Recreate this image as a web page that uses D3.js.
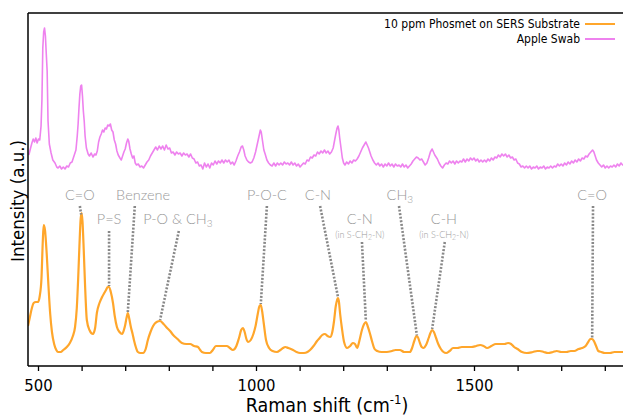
<!DOCTYPE html>
<html><head><meta charset="utf-8">
<script src="https://cdn.jsdelivr.net/npm/d3@7"></script>
<style>
body{margin:0;background:#fff}
svg{display:block}
</style></head>
<body>
<svg id="c" width="623" height="417"></svg>
<script>
// ---- data ----
const seriesNames = ["10 ppm Phosmet on SERS Substrate", "Apple Swab"];
const seriesColors = ["#FFA62B", "#EE82EE"];
const tickValues = [500,600,700,800,900,1000,1100,1200,1300,1400,1500,1600,1700,1800];
const tickLabels = {500:"500",1000:"1000",1500:"1500"};

const phosmet = [
[477,40],[481,48],[486,58],[490,63],[495,64],[500,64],[504,70],[508,88],[511,125],[513,141],[516,136],[520,112],[524,80],[528,52],[532,34],[537,22],[542,16],[546,14],[552,14],[558,16],[566,19],[573,23],[580,30],[585,39],[589,58],[592,86],[595,120],[598,148],[600,153],[602,145],[605,115],[608,80],[612,46],[618,36],[626,32],[631,38],[635,53],[641,63],[647,69],[652,73],[656,76],[660,79],[663,79],[667,74],[672,63],[676,50],[681,39],[687,34],[693,32],[697,36],[700,41],[703,48],[706,53],[709,48],[713,39],[717,32],[720,26],[725,18],[729,14],[735,13],[741,13],[747,17],[752,26],[758,34],[764,40],[772,44],[780,45],[788,42],[796,38],[803,35],[810,31],[820,27],[830,23],[840,22],[849,22],[858,20],[867,19],[872,16],[876,14],[885,13],[894,13],[901,16],[908,20],[920,20],[933,20],[940,18],[947,16],[955,20],[961,28],[966,36],[970,38],[974,34],[978,27],[982,24],[988,26],[994,32],[999,40],[1004,52],[1008,60],[1011,61],[1014,55],[1018,42],[1023,26],[1030,18],[1038,15],[1048,14],[1056,16],[1062,18],[1067,19],[1074,18],[1080,17],[1085,16],[1093,14],[1101,13],[1110,13],[1118,14],[1124,16],[1132,20],[1140,25],[1146,28],[1152,31],[1158,32],[1164,30],[1170,29],[1175,34],[1179,45],[1183,60],[1186,66],[1188,68],[1190,65],[1193,52],[1197,38],[1202,24],[1209,18],[1216,20],[1222,23],[1227,22],[1232,18],[1237,25],[1243,36],[1248,42],[1252,44],[1256,40],[1261,33],[1266,25],[1272,17],[1278,15],[1288,14],[1300,14],[1312,15],[1320,16],[1330,16],[1340,14],[1348,14],[1353,14],[1358,18],[1363,25],[1368,30],[1371,29],[1376,23],[1380,19],[1385,18],[1390,21],[1396,28],[1400,33],[1404,36],[1408,34],[1413,28],[1418,22],[1424,17],[1430,14],[1436,13],[1444,15],[1452,18],[1462,18],[1472,19],[1484,19],[1494,19],[1505,20],[1514,21],[1522,20],[1530,18],[1540,20],[1550,22],[1560,22],[1570,22],[1578,23],[1585,22],[1592,19],[1600,17],[1610,14],[1621,13],[1635,14],[1645,15],[1651,15],[1660,14],[1670,13],[1681,14],[1690,15],[1700,14],[1712,14],[1722,15],[1730,15],[1740,17],[1748,18],[1756,20],[1762,24],[1767,27],[1771,27],[1775,25],[1780,20],[1785,15],[1792,14],[1800,13],[1812,13],[1822,14],[1832,14],[1842,14],[1848,13]
];

const appleSwab = [
[479,211],[483,218],[486,223],[489,227],[492,224],[495,228],[498,223],[501,227],[504,226],[507,240],[509,266],[511,318],[513,334],[515,338],[517,330],[519,312],[521,295],[523,245],[526,222],[530,213],[534,206],[539,203],[543,199],[546,198],[550,200],[554,197],[558,199],[562,197],[566,200],[570,199],[574,203],[578,204],[581,208],[584,212],[587,216],[590,230],[592,242],[594,258],[596,272],[598,280],[600,281],[602,270],[604,255],[606,245],[608,230],[611,218],[615,212],[618,210],[622,213],[626,209],[630,212],[633,211],[636,215],[639,224],[642,229],[645,232],[648,236],[651,234],[654,238],[657,237],[660,241],[663,240],[666,242],[669,236],[672,234],[675,226],[678,222],[681,215],[684,211],[688,208],[691,206],[694,210],[697,214],[700,217],[703,223],[706,227],[708,225],[711,217],[714,212],[717,208],[720,210],[723,203],[726,201],[730,202],[734,199],[738,200],[742,198],[746,201],[750,204],[754,206],[758,210],[762,213],[766,216],[770,219],[774,216],[778,220],[782,217],[786,220],[790,216],[794,221],[798,217],[802,218],[806,213],[810,214],[814,211],[818,214],[822,212],[826,213],[830,210],[834,213],[838,211],[842,212],[846,209],[850,212],[854,208],[858,207],[862,203],[866,204],[870,200],[874,201],[878,197],[882,203],[886,199],[890,202],[894,198],[898,203],[902,201],[906,205],[910,202],[914,205],[918,203],[922,206],[926,203],[930,206],[934,204],[938,206],[942,202],[946,204],[950,201],[954,205],[958,210],[962,214],[966,219],[969,220],[972,216],[975,210],[979,206],[983,204],[987,203],[991,204],[995,208],[999,214],[1003,222],[1007,230],[1010,236],[1012,234],[1015,225],[1018,216],[1021,212],[1025,206],[1029,203],[1033,201],[1037,200],[1041,203],[1045,200],[1049,203],[1053,201],[1057,203],[1061,201],[1065,204],[1069,202],[1073,203],[1077,201],[1081,204],[1085,201],[1089,203],[1093,200],[1097,202],[1101,199],[1105,201],[1109,203],[1113,202],[1117,206],[1121,205],[1125,209],[1129,208],[1133,211],[1137,210],[1141,214],[1145,212],[1149,215],[1153,213],[1157,216],[1161,213],[1165,215],[1169,212],[1173,214],[1177,218],[1180,225],[1183,232],[1186,238],[1188,240],[1190,236],[1192,228],[1195,218],[1198,208],[1201,203],[1204,201],[1208,204],[1212,202],[1216,205],[1220,203],[1224,206],[1228,205],[1232,207],[1236,210],[1240,214],[1244,218],[1248,221],[1252,224],[1255,221],[1258,218],[1261,214],[1264,210],[1268,206],[1272,203],[1276,201],[1280,203],[1284,200],[1288,202],[1292,199],[1296,202],[1300,200],[1304,203],[1308,200],[1312,202],[1316,199],[1320,202],[1324,200],[1328,201],[1332,199],[1336,202],[1340,199],[1344,201],[1348,198],[1352,200],[1356,202],[1360,205],[1364,207],[1368,209],[1372,208],[1376,206],[1380,207],[1384,204],[1388,201],[1392,203],[1396,208],[1400,214],[1404,217],[1407,214],[1410,211],[1413,209],[1416,207],[1420,203],[1424,200],[1428,198],[1432,201],[1436,203],[1440,202],[1444,205],[1448,203],[1452,205],[1456,202],[1460,205],[1464,203],[1468,205],[1472,204],[1476,207],[1480,204],[1484,207],[1488,205],[1492,208],[1496,206],[1500,208],[1504,205],[1508,207],[1512,204],[1516,206],[1520,204],[1524,206],[1528,204],[1532,207],[1536,205],[1540,208],[1544,206],[1548,209],[1552,208],[1556,211],[1560,209],[1564,212],[1568,210],[1572,212],[1576,209],[1580,211],[1584,208],[1588,209],[1592,206],[1596,207],[1600,203],[1604,202],[1608,199],[1612,200],[1616,198],[1620,200],[1624,198],[1628,200],[1632,197],[1636,199],[1640,198],[1644,200],[1648,197],[1652,199],[1656,198],[1660,200],[1664,197],[1668,199],[1672,198],[1676,200],[1680,198],[1684,200],[1688,199],[1692,202],[1696,200],[1700,202],[1704,200],[1708,203],[1712,201],[1716,204],[1720,202],[1724,205],[1728,203],[1732,206],[1736,204],[1740,207],[1744,205],[1748,208],[1752,207],[1756,210],[1760,209],[1764,212],[1768,214],[1772,216],[1775,214],[1778,210],[1781,206],[1785,203],[1789,201],[1793,199],[1797,201],[1801,198],[1805,200],[1809,198],[1813,200],[1817,199],[1821,201],[1825,199],[1829,202],[1833,200],[1837,203],[1841,201],[1845,202]
];

// peak annotations: label, sub-label, label position (cm-1), leader top (cm-1), peak (cm-1), row
const annoLabels = ["C=O","P=S","Benzene","P-O & CH₃","P-O-C","C-N","C-N","CH₃","C-H","C=O"];
const annoSubs   = ["","","","","","","(in S-CH₂-N)","","(in S-CH₂-N)",""];
const annoLabelX = [596,663,741,821,1025,1142,1238,1330,1431,1771];
const annoTopX   = [596,663,722,823,1025,1147,1243,1328,1433,1773];
const annoPeakX  = [599,663,706,780,1011,1188,1252,1369,1404,1771];
const annoRow    = [1,2,1,2,1,1,2,1,2,1];

// ---- layout ----
const svg = d3.select("#c");
const pL = 28, pT = 13, pB = 366, pR = 640;
const x = d3.scaleLinear().domain([500,1500]).range([38,474]);
const y = d3.scaleLinear().domain([0,353]).range([pB, pT]);
const uiFont = "'DejaVu Sans', Verdana, sans-serif";

svg.append("defs").append("clipPath").attr("id","clip")
  .append("rect").attr("x",pL).attr("y",pT).attr("width",pR-pL).attr("height",pB-pT);

const g = svg.append("g").attr("clip-path","url(#clip)");
g.append("path").attr("d", d3.line().x(d=>x(d[0])).y(d=>y(d[1])).curve(d3.curveLinear)(appleSwab))
  .attr("fill","none").attr("stroke",seriesColors[1]).attr("stroke-width",1.6).attr("stroke-linejoin","round");
g.append("path").attr("d", d3.line().x(d=>x(d[0])).y(d=>y(d[1])).curve(d3.curveMonotoneX)(phosmet))
  .attr("fill","none").attr("stroke",seriesColors[0]).attr("stroke-width",2.2);

// annotations
const interp = (wn) => {
  for (let i=1;i<phosmet.length;i++){
    if (phosmet[i][0] >= wn){
      const a=phosmet[i-1], b=phosmet[i];
      return a[1] + (b[1]-a[1])*(wn-a[0])/(b[0]-a[0]);
    }
  }
  return phosmet[phosmet.length-1][1];
};
const rowTextY = {1:200, 2:224};
annoLabels.forEach((lab,i)=>{
  const row = annoRow[i];
  const hasSub = annoSubs[i] !== "";
  const topY = row===1 ? 206 : (hasSub ? 242 : 231);
  svg.append("line")
    .attr("x1", x(annoTopX[i])).attr("y1", topY)
    .attr("x2", x(annoPeakX[i])).attr("y2", y(interp(annoPeakX[i])) - 1)
    .attr("stroke","#888").attr("stroke-width",2.6).attr("stroke-dasharray","2,1.6");
  const t = svg.append("text").attr("x", x(annoLabelX[i])).attr("y", rowTextY[row])
    .attr("text-anchor","middle").attr("fill","#999999")
    .attr("font-family","Lato, 'Open Sans', sans-serif").attr("font-weight",300).attr("font-size",14.5);
  const m = lab.match(/^(.*?)([₂₃])$/);
  if (m){
    t.append("tspan").text(m[1]);
    t.append("tspan").attr("font-size",10).attr("dy",3).text(m[2]==="₃"?"3":"2");
  } else t.text(lab);
  if (hasSub){
    const s = svg.append("text").attr("x", x(annoLabelX[i])).attr("y", rowTextY[row]+14)
      .attr("text-anchor","middle").attr("fill","#999999")
      .attr("font-family","Lato, 'Open Sans', sans-serif").attr("font-weight",300).attr("font-size",9);
    s.append("tspan").text("(in S-CH");
    s.append("tspan").attr("font-size",7).attr("dy",2).text("2");
    s.append("tspan").attr("dy",-2).text("-N)");
  }
});

// axes / frame
svg.append("line").attr("x1",pL).attr("x2",pR).attr("y1",pT).attr("y2",pT).attr("stroke","#000").attr("stroke-width",1.5);
svg.append("line").attr("x1",pL).attr("x2",pL).attr("y1",pT).attr("y2",pB).attr("stroke","#000").attr("stroke-width",1.5);
const xAxis = d3.axisBottom(x).tickValues(tickValues).tickSize(5).tickSizeOuter(0)
  .tickFormat(d=>tickLabels[d]||"");
const ax = svg.append("g").attr("transform",`translate(0,${pB})`).call(xAxis);
ax.select(".domain").remove();
ax.selectAll(".tick line").attr("stroke","#000").attr("stroke-width",1.3);
ax.selectAll(".tick text").attr("font-family",uiFont).attr("font-stretch","condensed")
  .attr("font-size",16.5).attr("fill","#000").attr("dy","1.0em");
svg.append("line").attr("x1",pL).attr("x2",pR).attr("y1",pB).attr("y2",pB).attr("stroke","#000").attr("stroke-width",1.5);

// axis titles
const xt = svg.append("text").attr("x",327).attr("y",412).attr("text-anchor","middle")
  .attr("font-family",uiFont).attr("font-stretch","condensed").attr("font-size",19.5).attr("fill","#000");
xt.append("tspan").text("Raman shift (cm");
xt.append("tspan").attr("font-size",13).attr("dy",-8).text("-1");
xt.append("tspan").attr("dy",8).text(")");
svg.append("text").attr("transform",`translate(24,201) rotate(-90)`)
  .attr("text-anchor","middle").attr("font-family",uiFont).attr("font-stretch","condensed")
  .attr("font-size",18.5).attr("fill","#000").text("Intensity (a.u.)");

// legend
seriesNames.forEach((n,i)=>{
  const ly = 24 + i*15;
  svg.append("text").attr("x",580).attr("y",ly+4).attr("text-anchor","end")
    .attr("font-family",uiFont).attr("font-stretch","condensed").attr("font-size",12).attr("fill","#000").text(n);
  svg.append("line").attr("x1",585).attr("x2",615).attr("y1",ly).attr("y2",ly)
    .attr("stroke",seriesColors[i]).attr("stroke-width",2);
});
</script>
</body></html>
